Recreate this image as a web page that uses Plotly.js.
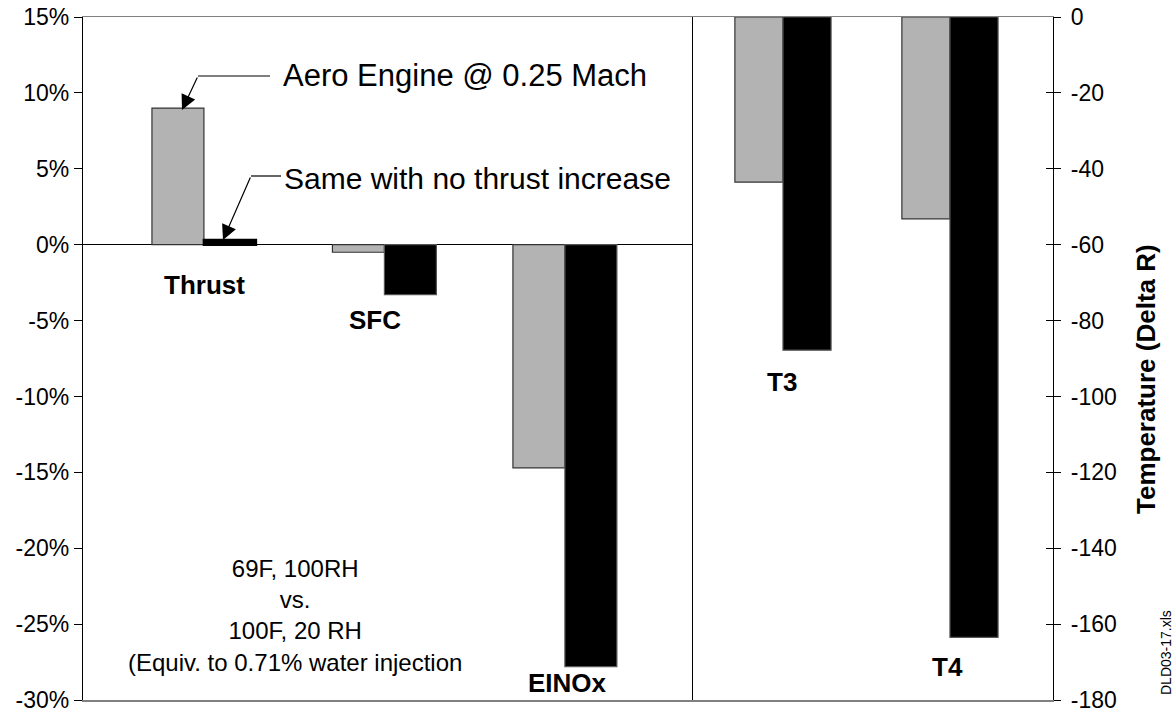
<!DOCTYPE html>
<html>
<head>
<meta charset="utf-8">
<script src="https://cdn.plot.ly/plotly-3.0.1.min.js"></script>
<style>html,body{margin:0;padding:0;background:#fff;}#chart{width:1174px;height:715px;}</style>
</head>
<body>
<div id="chart"></div>
<script>
// Left panel (percent change)
const leftCategories = ["Thrust", "SFC", "EINOx"];
const leftAero = [9.0, -0.5, -14.7];        // Aero Engine @ 0.25 Mach (%)
const leftNoThrust = [0.3, -3.3, -27.8];    // Same with no thrust increase (%)
// Right panel (temperature, Delta R)
const rightCategories = ["T3", "T4"];
const rightAero = [-43.5, -53.2];
const rightNoThrust = [-87.8, -163.5];
// Axis ticks
const leftTicks = [-30, -25, -20, -15, -10, -5, 0, 5, 10, 15];
const rightTicks = [-180, -160, -140, -120, -100, -80, -60, -40, -20, 0];

const FONT = "Liberation Sans, Arial, sans-serif";
const gray = "#b3b3b3", black = "#000000";

const traces = [
  {type: "bar", x: leftCategories, y: leftAero, xaxis: "x", yaxis: "y",
   marker: {color: gray, line: {color: "#333", width: 1.2}}, name: "Aero Engine @ 0.25 Mach"},
  {type: "bar", x: leftCategories, y: leftNoThrust, xaxis: "x", yaxis: "y",
   marker: {color: black, line: {color: ["#000", "#555", "#555"], width: [2.5, 1.2, 1.2]}},
   name: "Same with no thrust increase"},
  {type: "bar", x: rightCategories, y: rightAero, xaxis: "x2", yaxis: "y2",
   marker: {color: gray, line: {color: "#333", width: 1.2}}, showlegend: false},
  {type: "bar", x: rightCategories, y: rightNoThrust, xaxis: "x2", yaxis: "y2",
   marker: {color: black, line: {color: "#555", width: 1.2}}, showlegend: false},
  {type: "scatter", x: rightCategories, y: [null, null], xaxis: "x2", yaxis: "y3",
   mode: "markers", hoverinfo: "skip", showlegend: false}
];

const px2x = p => (p - 83) / 970;
const px2y = p => (700 - p) / 683;

const catFont = {family: FONT, size: 26, color: "#000"};
const labelAnn = (t, px, py) => ({text: "<b>" + t + "</b>", xref: "paper", yref: "paper",
  x: px2x(px), y: px2y(py), showarrow: false, font: catFont, xanchor: "center", yanchor: "middle"});

const layout = {
  width: 1174, height: 715,
  margin: {l: 83, r: 121, t: 17, b: 15},
  paper_bgcolor: "#fff", plot_bgcolor: "#fff",
  showlegend: false,
  barmode: "group", bargap: 0.424, bargroupgap: 0,
  font: {family: FONT, color: "#000"},
  xaxis: {domain: [0, 0.6278], type: "category", range: [-0.670, 2.704], showticklabels: false,
          ticks: "", showgrid: false, zeroline: false, showline: true, linecolor: "#808080",
          linewidth: 1.5, mirror: true, fixedrange: true},
  xaxis2: {domain: [0.6278, 1], type: "category", range: [-0.545, 1.617], showticklabels: false,
           ticks: "", showgrid: false, zeroline: false, showline: true, linecolor: "#808080",
           linewidth: 1.5, mirror: true, anchor: "y2", fixedrange: true},
  yaxis: {range: [-30, 15], tickvals: leftTicks, ticktext: leftTicks.map(v => v + "%"),
          ticks: "outside", ticklen: 8, tickcolor: "#000", showline: true, linecolor: "#000",
          linewidth: 1.2, mirror: true, showgrid: false, zeroline: true, zerolinecolor: "#000",
          zerolinewidth: 1.2, tickfont: {family: FONT, size: 23, color: "#000"}, anchor: "x"},
  yaxis2: {range: [-180, 0], tickvals: rightTicks, ticktext: rightTicks.map(v => String(v)),
           anchor: "x2", side: "right", ticklabelstandoff: 5,
           ticks: "outside", ticklen: 7, tickcolor: "#000", showline: true, linecolor: "#000",
           linewidth: 1.2, showgrid: false, zeroline: false,
           tickfont: {family: FONT, size: 23, color: "#000"}},
  yaxis3: {range: [-180, 0], tickvals: rightTicks, anchor: "x2", overlaying: "y2", side: "right",
           ticks: "inside", ticklen: 7, tickcolor: "#000", showline: false, showgrid: false,
           zeroline: false, showticklabels: false},
  shapes: [
    {type: "line", xref: "paper", yref: "paper", x0: px2x(198), x1: px2x(270), y0: px2y(76), y1: px2y(76),
     line: {color: "#000", width: 1.2}},
    {type: "line", xref: "paper", yref: "paper", x0: px2x(251), x1: px2x(281), y0: px2y(176), y1: px2y(176),
     line: {color: "#000", width: 1.2}}
  ],
  annotations: [
    {text: "", xref: "paper", yref: "paper", x: px2x(182), y: px2y(110), ax: 16, ay: -34,
     showarrow: true, arrowhead: 2, arrowsize: 2.5, arrowwidth: 1.2, arrowcolor: "#000"},
    {text: "", xref: "paper", yref: "paper", x: px2x(223), y: px2y(240), ax: 28, ay: -64,
     showarrow: true, arrowhead: 2, arrowsize: 2.5, arrowwidth: 1.2, arrowcolor: "#000"},
    {text: "Aero Engine @ 0.25 Mach", xref: "paper", yref: "paper", x: px2x(281), y: px2y(76),
     xanchor: "left", yanchor: "middle", showarrow: false, font: {family: FONT, size: 31, color: "#000"}},
    {text: "Same with no thrust increase", xref: "paper", yref: "paper", x: px2x(282), y: px2y(178),
     xanchor: "left", yanchor: "middle", showarrow: false, font: {family: FONT, size: 30, color: "#000"}},
    {text: "69F, 100RH<br>vs.<br>100F, 20 RH<br>(Equiv. to 0.71% water injection", xref: "paper", yref: "paper",
     x: px2x(295), y: px2y(615), xanchor: "center", yanchor: "middle", align: "center", showarrow: false,
     font: {family: FONT, size: 24, color: "#000"}},
    labelAnn("Thrust", 204, 285),
    labelAnn("SFC", 375, 320),
    labelAnn("EINOx", 567, 683),
    labelAnn("T3", 782, 382),
    labelAnn("T4", 947, 667),
    {text: "<b>Temperature (Delta R)</b>", xref: "paper", yref: "paper", x: px2x(1146), y: px2y(379),
     textangle: -90, showarrow: false, xanchor: "center", yanchor: "middle",
     font: {family: FONT, size: 26, color: "#000"}},
    {text: "DLD03-17.xls", xref: "paper", yref: "paper", x: px2x(1166), y: px2y(653),
     textangle: -90, showarrow: false, xanchor: "center", yanchor: "middle",
     font: {family: FONT, size: 14, color: "#000"}}
  ]
};

Plotly.newPlot("chart", traces, layout, {displayModeBar: false, staticPlot: true});
</script>
</body>
</html>
